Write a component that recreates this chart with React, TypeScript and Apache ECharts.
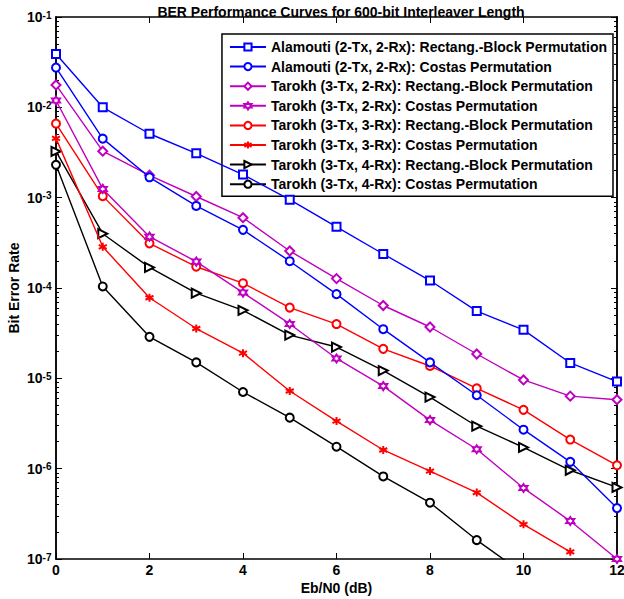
import React, { useEffect, useRef } from "react";
import * as echarts from "echarts";

const xValues = [0, 1, 2, 3, 4, 5, 6, 7, 8, 9, 10, 11, 12];

const seriesNames = [
  "Alamouti (2-Tx, 2-Rx): Rectang.-Block Permutation",
  "Alamouti (2-Tx, 2-Rx): Costas Permutation",
  "Tarokh (3-Tx, 2-Rx): Rectang.-Block Permutation",
  "Tarokh (3-Tx, 2-Rx): Costas Permutation",
  "Tarokh (3-Tx, 3-Rx): Rectang.-Block Permutation",
  "Tarokh (3-Tx, 3-Rx): Costas Permutation",
  "Tarokh (3-Tx, 4-Rx): Rectang.-Block Permutation",
  "Tarokh (3-Tx, 4-Rx): Costas Permutation",
];

const alamoutiRect = [0.039, 0.01, 0.0051, 0.0031, 0.0018, 9.5e-4, 4.75e-4, 2.38e-4, 1.21e-4, 5.55e-5, 3.44e-5, 1.48e-5, 9.2e-6];
const alamoutiCostas = [0.0275, 0.0045, 1.68e-3, 8.1e-4, 4.4e-4, 1.98e-4, 8.55e-5, 3.5e-5, 1.5e-5, 6.5e-6, 2.7e-6, 1.19e-6, 3.66e-7];
const tarokh32Rect = [0.0177, 0.00327, 1.77e-3, 1.03e-3, 6.0e-4, 2.57e-4, 1.27e-4, 6.4e-5, 3.7e-5, 1.86e-5, 9.6e-6, 6.35e-6, 5.8e-6];
const tarokh32Costas = [0.0119, 1.25e-3, 3.7e-4, 1.96e-4, 8.9e-5, 4.0e-5, 1.66e-5, 8.2e-6, 3.45e-6, 1.64e-6, 6.1e-7, 2.63e-7, 1.0e-7];
const tarokh33Rect = [6.6e-3, 1.04e-3, 3.12e-4, 1.72e-4, 1.13e-4, 6.07e-5, 3.99e-5, 2.12e-5, 1.37e-5, 7.76e-6, 4.48e-6, 2.1e-6, 1.09e-6];
const tarokh33Costas = [4.53e-3, 2.86e-4, 7.8e-5, 3.56e-5, 1.9e-5, 7.24e-6, 3.36e-6, 1.61e-6, 9.4e-7, 5.43e-7, 2.42e-7, 1.2e-7, null];
const tarokh34Rect = [3.25e-3, 3.99e-4, 1.69e-4, 8.77e-5, 5.66e-5, 3.01e-5, 2.22e-5, 1.22e-5, 6.2e-6, 2.95e-6, 1.72e-6, 9.6e-7, 6.2e-7];
const tarokh34Costas = [2.31e-3, 1.04e-4, 2.88e-5, 1.5e-5, 7.06e-6, 3.67e-6, 1.75e-6, 8.2e-7, 4.2e-7, 1.62e-7, 6.9e-8, null, null];

const seriesValues = [
  alamoutiRect,
  alamoutiCostas,
  tarokh32Rect,
  tarokh32Costas,
  tarokh33Rect,
  tarokh33Costas,
  tarokh34Rect,
  tarokh34Costas,
];

const seriesColors = ["#0000ff", "#0000ff", "#bf00bf", "#bf00bf", "#ff0000", "#ff0000", "#000000", "#000000"];

const hexagram = "emptyPath://M5,0 L6.44,2.5 L9.33,2.5 L7.89,5 L9.33,7.5 L6.44,7.5 L5,10 L3.56,7.5 L0.67,7.5 L2.11,5 L0.67,2.5 L3.56,2.5 Z";
const asterisk = "emptyPath://M5,0 L5,10 M0.67,2.5 L9.33,7.5 M0.67,7.5 L9.33,2.5";
const triRight = "emptyPath://M0,0 L10,5 L0,10 Z";
const seriesSymbols = ["emptyRect", "emptyCircle", "emptyDiamond", hexagram, "emptyCircle", asterisk, triRight, "emptyCircle"];
const seriesSymbolSizes = [8, 8, 9, 8, 8, 8, 9, 8];

const xTicks = [0, 2, 4, 6, 8, 10, 12];
const yMajorTicks = [1e-7, 1e-6, 1e-5, 1e-4, 1e-3, 1e-2, 1e-1];
const yMinorTicks: number[] = [];
for (let d = -7; d < -1; d++) {
  for (let m = 2; m <= 9; m++) yMinorTicks.push(Number((m * Math.pow(10, d)).toPrecision(3)));
}

const FONT = "'Liberation Sans', Arial, sans-serif";

export default function App() {
  const ref = useRef<HTMLDivElement>(null);
  useEffect(() => {
    if (!ref.current) return;
    const chart = echarts.init(ref.current, null, { renderer: "svg" });
    const grid = { left: 56, right: 7, top: 17, bottom: 40, containLabel: false, outerBoundsMode: "none" };
    const axisLineStyle = { color: "#000", width: 1.5 };
    const hiddenLog = (pos: "left" | "right", ticks: number[], len: number) => ({
      type: "log" as const,
      logBase: 10,
      min: 1e-7,
      max: 1e-1,
      position: pos,
      offset: 0,
      axisLine: { show: true, lineStyle: axisLineStyle },
      axisTick: { show: true, inside: true, length: len, customValues: ticks, lineStyle: { color: "#000", width: 1 } },
      axisLabel: { show: false },
      splitLine: { show: false },
    });
    chart.setOption({
      animation: false,
      backgroundColor: "#ffffff",
      textStyle: { fontFamily: FONT },
      title: {
        text: "BER Performance Curves for 600-bit Interleaver Length",
        left: 336,
        textAlign: "center",
        top: 0,
        textStyle: { fontFamily: FONT, fontSize: 14, fontWeight: "bold", color: "#000" },
      },
      grid,
      legend: {
        orient: "vertical",
        right: 11,
        top: 34,
        padding: [6, 6, 5, 7],
        itemWidth: 36,
        itemHeight: 9,
        itemGap: 5.6,
        backgroundColor: "#ffffff",
        borderColor: "#000",
        borderWidth: 1.5,
        align: "left",
        textStyle: { fontFamily: FONT, fontSize: 14, fontWeight: "bold", color: "#000", lineHeight: 14 },
        data: seriesNames,
      },
      xAxis: [
        {
          type: "value",
          min: 0,
          max: 12,
          interval: 2,
          position: "bottom",
          name: "Eb/N0 (dB)",
          nameLocation: "middle",
          nameGap: 22,
          nameMoveOverlap: false,
          nameTextStyle: { fontFamily: FONT, fontSize: 14, fontWeight: "bold", color: "#000" },
          axisLine: { show: true, lineStyle: axisLineStyle },
          axisTick: { show: true, inside: true, length: 6, customValues: xTicks, lineStyle: { color: "#000" } },
          axisLabel: { fontFamily: FONT, fontSize: 14, fontWeight: "bold", color: "#000", margin: 4, customValues: xTicks },
          splitLine: { show: false },
        },
        {
          type: "value",
          min: 0,
          max: 12,
          interval: 2,
          position: "top",
          axisLine: { show: true, lineStyle: axisLineStyle },
          axisTick: { show: true, inside: true, length: 6, lineStyle: { color: "#000" } },
          axisLabel: { show: false },
          splitLine: { show: false },
        },
      ],
      yAxis: [
        {
          type: "log",
          logBase: 10,
          min: 1e-7,
          max: 1e-1,
          position: "left",
          offset: 0,
          name: "Bit Error Rate",
          nameLocation: "middle",
          nameGap: 35,
          nameRotate: 90,
          nameMoveOverlap: false,
          nameTextStyle: { fontFamily: FONT, fontSize: 14, fontWeight: "bold", color: "#000" },
          axisLine: { show: true, lineStyle: axisLineStyle },
          axisTick: { show: true, inside: true, length: 6, customValues: yMajorTicks, lineStyle: { color: "#000" } },
          axisLabel: {
            customValues: yMajorTicks,
            margin: 29,
            align: "left",
            formatter: (v: number) => `{b|10}{e|${Math.round(Math.log10(v))}}`,
            rich: {
              b: { fontFamily: FONT, fontSize: 14, fontWeight: "bold", color: "#000" },
              e: { fontFamily: FONT, fontSize: 10, fontWeight: "bold", color: "#000", verticalAlign: "top" },
            },
          },
          splitLine: { show: false },
        },
        hiddenLog("left", yMinorTicks, 3),
        hiddenLog("right", yMajorTicks, 6),
        hiddenLog("right", yMinorTicks, 3),
      ],
      series: seriesNames.map((name, i) => ({
        name,
        type: "line",
        xAxisIndex: 0,
        yAxisIndex: 0,
        clip: true,
        data: xValues.map((x, j) => [x, seriesValues[i][j]]),
        connectNulls: false,
        color: seriesColors[i],
        symbol: seriesSymbols[i],
        symbolSize: seriesSymbolSizes[i],
        showAllSymbol: true,
        lineStyle: { width: 1.4, color: seriesColors[i] },
        itemStyle: { color: seriesColors[i], borderColor: seriesColors[i], borderWidth: 1.4 },
        z: 10 - i,
      })),
    });
    return () => chart.dispose();
  }, []);
  return <div ref={ref} style={{ position: "fixed", left: 0, top: 0, width: 624, height: 599 }} />;
}
